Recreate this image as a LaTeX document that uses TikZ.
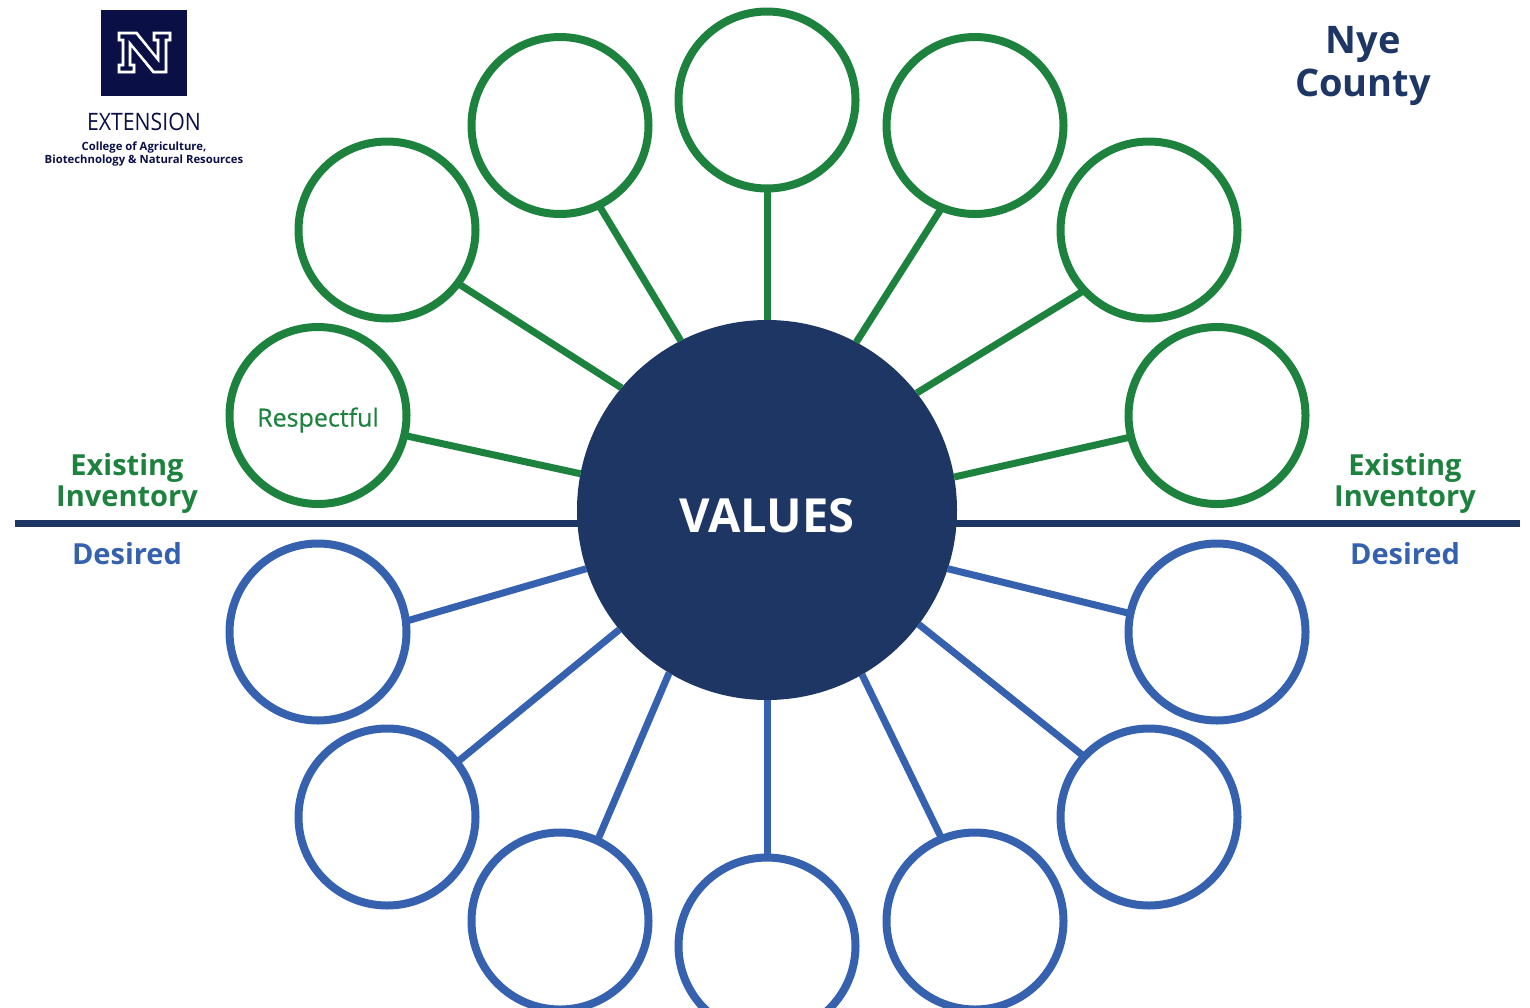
\documentclass[tikz,border=0pt]{standalone}
\usepackage{fontspec}
\setmainfont{Open Sans}
\newfontfamily\semifont[FakeBold=0.35]{Open Sans}
\newfontfamily\extfont[FakeStretch=0.885]{Open Sans}
\definecolor{navy}{HTML}{1D3664}
\definecolor{logonavy}{HTML}{0A1045}
\definecolor{grn}{HTML}{1E823F}
\definecolor{blu}{HTML}{3561AE}
\tikzset{
  ring/.style={circle,draw,line width=8pt,minimum size=177pt,inner sep=0pt,outer sep=0pt,fill=white},
  gring/.style={ring,draw=grn},
  bring/.style={ring,draw=blu},
  glink/.style={draw=grn,line width=7pt},
  blink/.style={draw=blu,line width=7pt},
  hub/.style={circle,fill=navy,minimum size=380pt,inner sep=0pt,outer sep=0pt},
  head/.style={font=\bfseries\fontsize{29}{30}\selectfont,align=center,inner sep=0pt},
  ghead/.style={head,text=grn},
  bhead/.style={head,text=blu},
}
\begin{document}
\begin{tikzpicture}[x=1pt,y=-1pt]
\useasboundingbox (0,0) rectangle (1530,1007);
\clip (0,0) rectangle (1530,1007);
\coordinate (L) at (15,523);
\coordinate (R) at (1520,523);
\draw[navy,line width=7pt] (L) -- (R);
\node[hub] (c) at (767,510) {};
\node[text=white,font=\bfseries\fontsize{47}{47}\selectfont,inner sep=0pt] (val) at (767,516) {VALUES};
\node[gring] (g1) at (318,415.5) {};
\node[gring] (g2) at (387,230) {};
\node[gring] (g3) at (560,125.5) {};
\node[gring] (g4) at (767,100) {};
\node[gring] (g5) at (975,125.5) {};
\node[gring] (g6) at (1149,230) {};
\node[gring] (g7) at (1217,415.5) {};
\node[bring] (b1) at (318,632) {};
\node[bring] (b2) at (387,817) {};
\node[bring] (b3) at (560,921) {};
\node[bring] (b4) at (767,946) {};
\node[bring] (b5) at (975,921) {};
\node[bring] (b6) at (1149,817) {};
\node[bring] (b7) at (1217,632) {};
\path[glink] (c.169.6) -- (g1.-13);
\path[glink] (c.140.4) -- (g2.-37.9);
\path[glink] (c.117.7) -- (g3.-64.3);
\path[glink] (c.90) -- (g4.-90);
\path[glink] (c.62) -- (g5.-112.4);
\path[glink] (c.38.8) -- (g6.-137.7);
\path[glink] (c.10.3) -- (g7.-166.9);
\path[blink] (c.-162.1) -- (b1.7.4);
\path[blink] (c.-141.7) -- (b2.38.4);
\path[blink] (c.-121.8) -- (b3.65.4);
\path[blink] (c.-90) -- (b4.90);
\path[blink] (c.-60.3) -- (b5.112.4);
\path[blink] (c.-37.9) -- (b6.137.7);
\path[blink] (c.-18.1) -- (b7.168.7);
\node[text=grn,font=\semifont\fontsize{25}{25}\selectfont,inner sep=0pt] (resp) at (318,420) {Respectful};
\node[ghead] (ex1) at (127,483) {Existing\\[1pt]Inventory};
\node[ghead] (ex2) at (1405,483) {Existing\\[1pt]Inventory};
\node[bhead] (d1) at (127,554) {Desired};
\node[bhead] (d2) at (1405,554) {Desired};
\node[font=\bfseries\fontsize{38}{43}\selectfont,text=navy,align=center,inner sep=0pt] (nye) at (1363,66) {Nye\\County};
% logo
\node[fill=logonavy,minimum size=86pt,inner sep=0pt,outer sep=0pt] (logo) at (144,53) {};
\path[fill=white,draw=white,line width=.7pt,even odd rule] (118,32) -- (137,32) -- (157,57) -- (157,41) -- (153,41) -- (153,32) -- (171,32) -- (171,41) -- (167,41) -- (167,73) -- (153,73) -- (131,46) -- (131,64) -- (135,64) -- (135,73) -- (118,73) -- (118,64) -- (122,64) -- (122,41) -- (118,41) -- cycle
 (120,34) -- (120,39) -- (124,39) -- (124,66) -- (120,66) -- (120,71) -- (133,71) -- (133,66) -- (129,66) -- (129,41) -- (154,71) -- (165,71) -- (165,39) -- (169,39) -- (169,34) -- (155,34) -- (155,39) -- (159,39) -- (159,62) -- (136,34) -- cycle;
\node[text=logonavy,font=\extfont\fontsize{24}{24}\selectfont,inner sep=0pt] (ext) at (144,122) {EXTENSION};
\node[text=logonavy,font=\bfseries\fontsize{11.3}{13}\selectfont,align=center,inner sep=0pt] (col) at (144,154) {College of Agriculture,\\Biotechnology \& Natural Resources};
\end{tikzpicture}
\end{document}
